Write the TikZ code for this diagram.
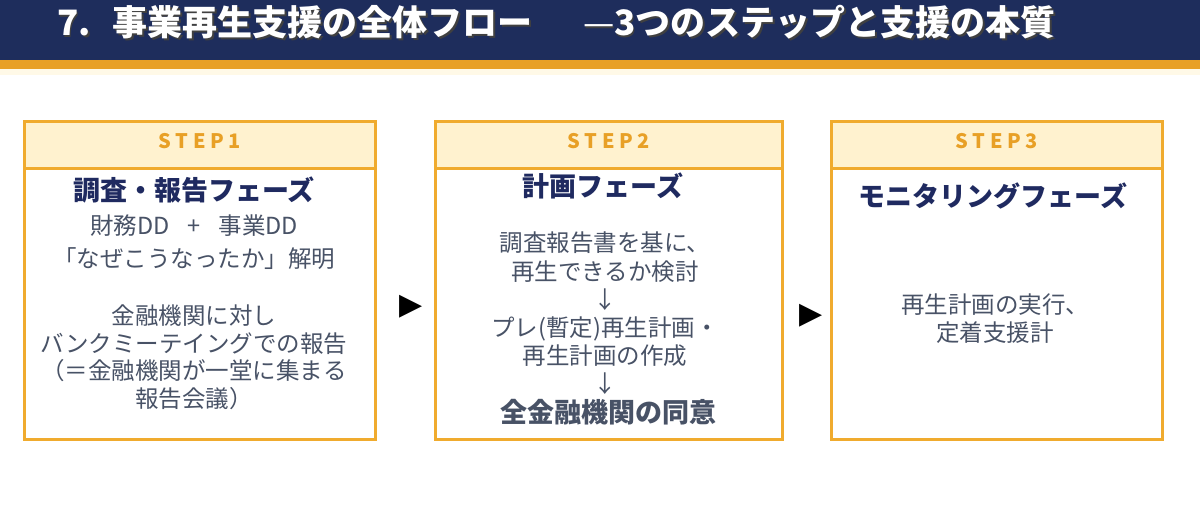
\documentclass[tikz,border=0pt]{standalone}
\usepackage{fontspec}
\setmainfont{Noto Sans CJK JP}
\newfontfamily\symfont{DejaVu Sans}
\usetikzlibrary{positioning}
\definecolor{hdnavy}{RGB}{30,45,92}
\definecolor{hdorange}{RGB}{232,160,38}
\definecolor{stepfill}{RGB}{255,242,207}
\definecolor{boxline}{RGB}{240,171,46}
\definecolor{phasenavy}{RGB}{31,42,96}
\definecolor{bodygray}{RGB}{72,82,102}

\tikzset{
  stepbox/.style={draw=boxline, line width=2.5pt, fill=white, anchor=north west, inner sep=0pt},
  stephead/.style={draw=boxline, line width=2.5pt, fill=stepfill, anchor=north west, inner sep=0pt,
    text height=14pt, text depth=6pt, text=hdorange,
    font=\fontsize{20}{20}\selectfont\bfseries\addfontfeatures{LetterSpace=24}},
  titletext/.style={anchor=west, font=\fontsize{35}{35}\selectfont\bfseries, inner sep=0pt},
  phase/.style={text=phasenavy, font=\fontsize{27}{30}\selectfont\bfseries, inner sep=0pt},
  body/.style={text=bodygray, font=\fontsize{23.5}{27.5}\selectfont, align=center, inner sep=0pt, anchor=north},
  tri/.style={text=black, font=\symfont\fontsize{30}{30}\selectfont, inner sep=0pt}
}

\begin{document}
\begin{tikzpicture}[x=1pt,y=-1pt]
  \useasboundingbox (0,0) rectangle (1200,530);
  % header band
  \fill[hdnavy] (0,0) rectangle (1200,60);
  \fill[hdorange] (0,60) rectangle (1200,69);
  \fill[stepfill!50] (0,69) rectangle (1200,75);
  \node[titletext, text=black!75] (titleshadowa) at (58.5,24) {7.\hspace{22pt}事業再生支援の全体フロー};
  \node[titletext, text=white] (titlea) at (57,22.5) {7.\hspace{22pt}事業再生支援の全体フロー};
  \node[titletext, text=black!75] (titleshadowb) at (584.5,24) {{\mdseries —}3つのステップと支援の本質};
  \node[titletext, text=white] (titleb) at (583,22.5) {{\mdseries —}3つのステップと支援の本質};

  % STEP1
  \node[stepbox, minimum width=351pt, minimum height=318pt] (box1) at (23,120) {};
  \node[stephead, minimum width=351pt, minimum height=47pt] (head1) at (box1.north west) {STEP1};
  \node[phase] (phase1) at (194,190) {調査・報告フェーズ};
  \node[body] (text1a) at (194,215) {財務DD\hspace{18pt}+\hspace{18pt}事業DD\\[5pt]「なぜこうなったか」解明};
  \node[body] (text1b) at (194,305) {金融機関に対し\\バンクミーテイングでの報告\\（＝金融機関が一堂に集まる\\報告会議）};

  % STEP2
  \node[stepbox, minimum width=347pt, minimum height=318pt] (box2) at (434,120) {};
  \node[stephead, minimum width=347pt, minimum height=47pt] (head2) at (box2.north west) {STEP2};
  \node[phase] (phase2) at (603,186) {計画フェーズ};
  \node[body, font=\fontsize{23.5}{28.2}\selectfont] (text2) at (605,232) {調査報告書を基に、\\再生できるか検討\\↓\\プレ(暫定)再生計画・\\再生計画の作成\\↓};
  \node[phase, text=bodygray] (agree2) at (608,412) {全金融機関の同意};

  % STEP3
  \node[stepbox, minimum width=331pt, minimum height=318pt] (box3) at (830,120) {};
  \node[stephead, minimum width=331pt, minimum height=47pt] (head3) at (box3.north west) {STEP3};
  \node[phase] (phase3) at (993,196) {モニタリングフェーズ};
  \node[body] (text3) at (995,294) {再生計画の実行、\\定着支援計};

  % arrows between steps
  \node[tri] (arr1) at (411,307) {▶};
  \node[tri] (arr2) at (811,316) {▶};
\end{tikzpicture}
\end{document}
